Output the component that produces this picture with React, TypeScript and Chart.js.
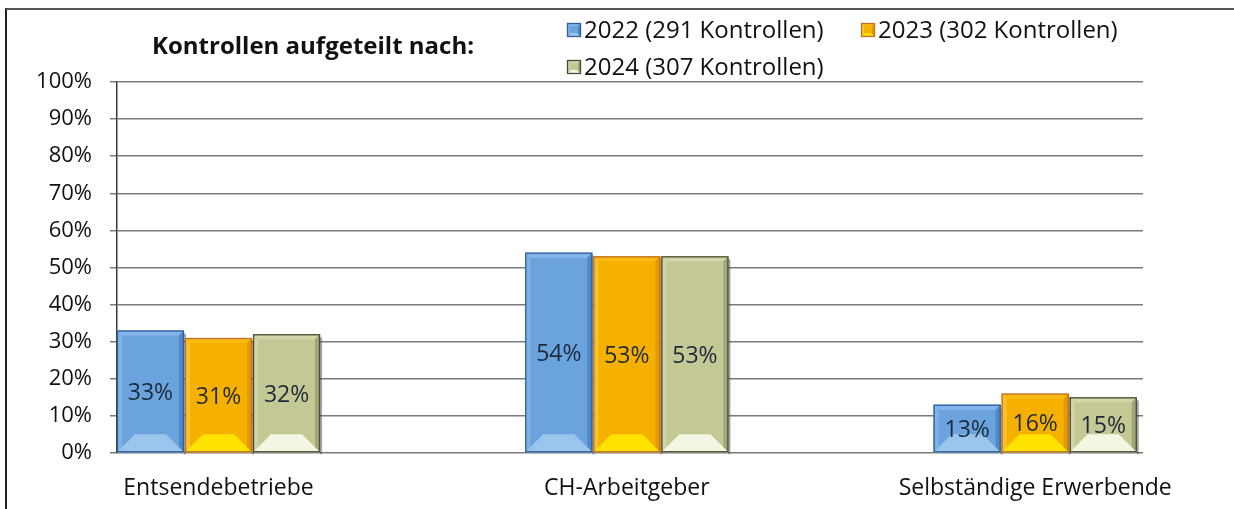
import React, { useEffect, useRef } from "react";
import { Chart, registerables } from "chart.js";

Chart.register(...registerables);

const chartTitle = "Kontrollen aufgeteilt nach:";
const categories = ["Entsendebetriebe", "CH-Arbeitgeber", "Selbständige Erwerbende"];
const seriesLabels = ["2022 (291 Kontrollen)", "2023 (302 Kontrollen)", "2024 (307 Kontrollen)"];
const values2022 = [33, 54, 13];
const values2023 = [31, 53, 16];
const values2024 = [32, 53, 15];
const yTickValues = [0, 10, 20, 30, 40, 50, 60, 70, 80, 90, 100];

const FONT = "'Open Sans', 'DejaVu Sans', sans-serif";

const palettes = [
  { base: "#6ba3de", border: "#2f5f9e", top: "#84b4e8", left: "#80b2e6", right: "#5088c8", bottom: "#9cc5ee" },
  { base: "#f6b100", border: "#c0702a", top: "#f8bb14", left: "#fac22a", right: "#e29a00", bottom: "#ffe200" },
  { base: "#c3c895", border: "#4a4a30", top: "#d2d6aa", left: "#d0d4a6", right: "#a2a676", bottom: "#f4f5e2" },
];

function poly(ctx: CanvasRenderingContext2D, pts: number[][], color: string) {
  ctx.beginPath();
  ctx.moveTo(pts[0][0], pts[0][1]);
  for (let i = 1; i < pts.length; i++) ctx.lineTo(pts[i][0], pts[i][1]);
  ctx.closePath();
  ctx.fillStyle = color;
  ctx.fill();
}

function drawBevelBox(ctx: CanvasRenderingContext2D, l: number, t: number, r: number, b: number, pal: any, s: number, bb: number) {
  poly(ctx, [[l, t], [r, t], [r - s, t + s], [l + s, t + s]], pal.top);
  poly(ctx, [[l, t], [l + s, t + s], [l + s, b - s], [l, b]], pal.left);
  poly(ctx, [[r, t], [r - s, t + s], [r - s, b - s], [r, b]], pal.right);
  poly(ctx, [[l, b], [r, b], [r - bb, b - bb], [l + bb, b - bb]], pal.bottom);
  ctx.strokeStyle = pal.border;
  ctx.lineWidth = 1.3;
  ctx.strokeRect(l + 0.5, t + 0.5, r - l - 1, b - t - 1);
}

const bevelPlugin = {
  id: "bevelAndLabels",
  afterDatasetsDraw(chart: any) {
    const ctx: CanvasRenderingContext2D = chart.ctx;
    ctx.save();
    chart.data.datasets.forEach((ds: any, di: number) => {
      const meta = chart.getDatasetMeta(di);
      const pal = palettes[di];
      meta.data.forEach((el: any, i: number) => {
        const p = el.getProps(["x", "y", "base", "width"], true);
        const l = p.x - p.width / 2;
        const r = p.x + p.width / 2;
        const t = Math.min(p.y, p.base);
        const b = Math.max(p.y, p.base);
        ctx.fillStyle = "rgba(60,60,60,0.45)";
        ctx.fillRect(r, t + 3, 2, b - t - 1);
        drawBevelBox(ctx, l, t, r, b, pal, 5, Math.min(18, (b - t) / 2.6));
        ctx.fillStyle = "#1c2a3a";
        ctx.font = `23px ${FONT}`;
        ctx.textAlign = "center";
        ctx.textBaseline = "middle";
        ctx.fillText(`${ds.data[i].y}%`, p.x, (t + b) / 2 + 2);
      });
    });
    ctx.restore();
  },
};

const headerPlugin = {
  id: "header",
  afterDraw(chart: any) {
    const ctx: CanvasRenderingContext2D = chart.ctx;
    ctx.save();
    ctx.fillStyle = "#111";
    ctx.font = `bold 24px ${FONT}`;
    ctx.textAlign = "left";
    ctx.textBaseline = "middle";
    ctx.fillText(chartTitle, 152, 47);
    const legendLeft = 567;
    const colWidth = 294;
    const rowTop = 30;
    const rowGap = 37;
    chart.data.datasets.forEach((ds: any, di: number) => {
      const col = di % 2;
      const row = Math.floor(di / 2);
      const x = legendLeft + col * colWidth;
      const y = rowTop + row * rowGap;
      const pal = palettes[di];
      ctx.fillStyle = pal.base;
      ctx.fillRect(x, y - 7, 14, 14);
      drawBevelBox(ctx, x, y - 7, x + 14, y + 7, pal, 3, 4);
      ctx.fillStyle = "#111";
      ctx.font = `24px ${FONT}`;
      ctx.textAlign = "left";
      ctx.textBaseline = "middle";
      ctx.fillText(ds.label, x + 17, y + 1);
    });
    ctx.restore();
  },
};

export default function App() {
  const canvasRef = useRef<HTMLCanvasElement | null>(null);

  useEffect(() => {
    const canvas = canvasRef.current;
    if (!canvas) return;
    const allValues = [values2022, values2023, values2024];
    const chart = new Chart(canvas, {
      type: "bar",
      data: {
        datasets: allValues.map((vals, di) => ({
          label: seriesLabels[di],
          data: vals.map((v, i) => ({ x: i, y: v })),
          backgroundColor: palettes[di].base,
          borderWidth: 0,
          categoryPercentage: 0.5,
          barPercentage: 0.985,
        })),
      },
      options: {
        responsive: false,
        animation: false,
        layout: { padding: { left: 0, right: 91, top: 82, bottom: 0 } },
        plugins: {
          legend: { display: false },
          tooltip: { enabled: false },
          title: { display: false },
        },
        scales: {
          x: {
            type: "linear",
            offset: false,
            bounds: "data",
            min: -0.2486,
            max: 2.264,
            grid: { display: false, drawTicks: false, offset: false },
            border: { display: false },
            afterBuildTicks: (scale: any) => {
              scale.ticks = categories.map((_, i) => ({ value: i }));
            },
            afterFit: (scale: any) => {
              scale.height = 56;
              scale.paddingLeft = 0;
              scale.paddingRight = 0;
            },
            ticks: {
              autoSkip: false,
              maxRotation: 0,
              padding: 22,
              color: "#111",
              font: { family: FONT, size: 23 },
              callback: (v: any) => categories[v] ?? "",
            },
          },
          y: {
            min: 0,
            max: 100,
            afterBuildTicks: (scale: any) => {
              scale.ticks = yTickValues.map((v) => ({ value: v }));
            },
            afterFit: (scale: any) => {
              scale.width = 117;
            },
            grid: { color: "#7a7a7a", lineWidth: 1.5, tickLength: 7 },
            border: { display: true, color: "#3a3a3a", width: 1.5 },
            ticks: {
              padding: 18,
              color: "#111",
              font: { family: FONT, size: 22 },
              callback: (v: any) => `${v}%`,
            },
          },
        },
      },
      plugins: [bevelPlugin, headerPlugin],
    });
    return () => chart.destroy();
  }, []);

  return (
    <div style={{ position: "fixed", left: 0, top: 0, width: 1234, height: 509, background: "#fff", overflow: "hidden" }}>
      <div
        style={{
          position: "absolute",
          left: 5,
          top: 8,
          width: 1300,
          height: 600,
          borderLeft: "2px solid #222",
          borderTop: "2px solid #555",
        }}
      />
      <canvas ref={canvasRef} width={1234} height={509} style={{ position: "absolute", left: 0, top: 0 }} />
    </div>
  );
}
